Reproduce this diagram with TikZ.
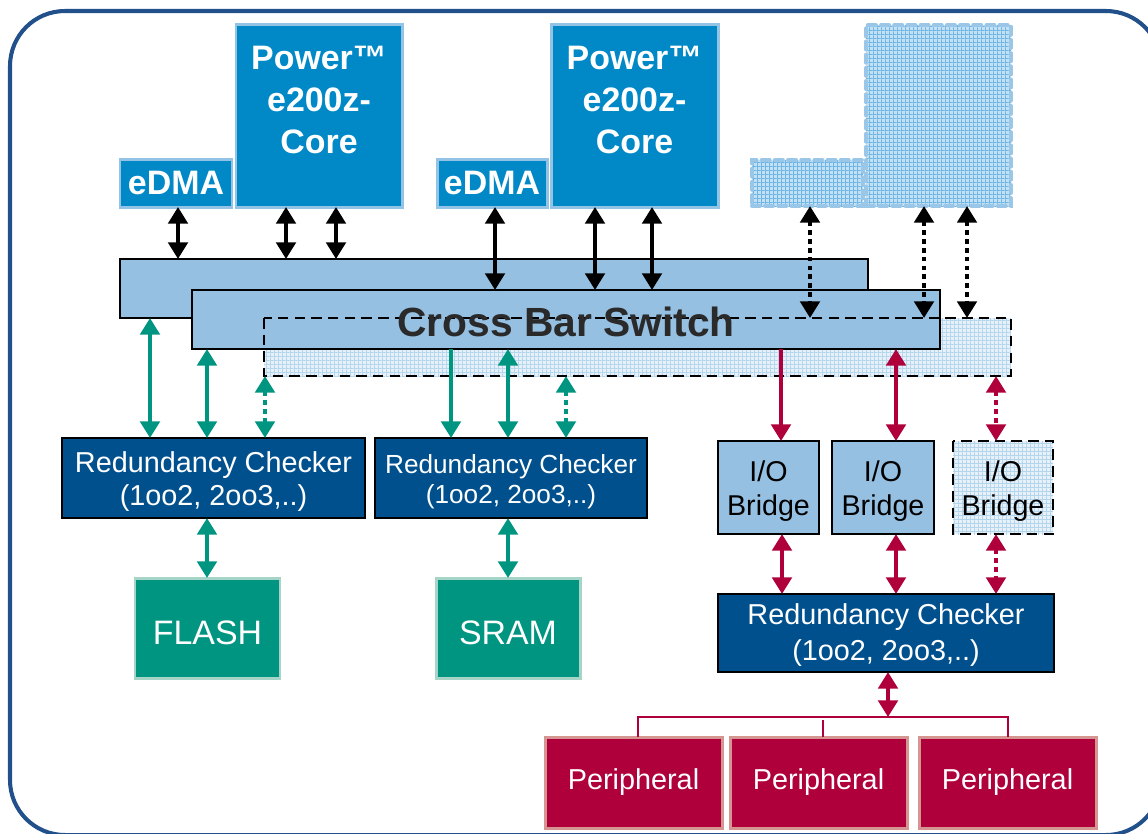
\documentclass[tikz,border=0pt]{standalone}
\usepackage{fontspec}
\setmainfont{Liberation Sans}
\usetikzlibrary{arrows.meta,patterns}
\pgfdeclarepatternformonly{finegrid}{\pgfpointorigin}{\pgfqpoint{2.2pt}{2.2pt}}{\pgfqpoint{2.2pt}{2.2pt}}{%
  \pgfpathrectangle{\pgfpointorigin}{\pgfqpoint{2.2pt}{0.5pt}}%
  \pgfpathrectangle{\pgfpointorigin}{\pgfqpoint{0.5pt}{2.2pt}}%
  \pgfusepath{fill}}
\definecolor{framec}{HTML}{21508A}
\definecolor{corefill}{HTML}{0088C7}
\definecolor{coreborder}{HTML}{93C3E5}
\definecolor{barfill}{HTML}{95C0E2}
\definecolor{hatchbg}{HTML}{C4E1F4}
\definecolor{hatchfg}{HTML}{6DB5E4}
\definecolor{hatchline}{HTML}{9AC6E7}
\definecolor{lhatchbg}{HTML}{E6F1F9}
\definecolor{lhatchfg}{HTML}{B3D5EC}
\definecolor{rcfill}{HTML}{00508E}
\definecolor{grn}{HTML}{009581}
\definecolor{grnborder}{HTML}{A6D4C6}
\definecolor{rd}{HTML}{AF003B}
\definecolor{rdborder}{HTML}{D59590}
\definecolor{xbtext}{HTML}{2A2A2A}
\newcommand{\dn}[1]{\rule{0pt}{#1}}
\begin{document}
\begin{tikzpicture}[x=0.02cm,y=-0.02cm,
  wh/.style 2 args={minimum width=#1*0.02cm, minimum height=#2*0.02cm},
  base/.style={inner sep=0pt, outer sep=0pt, align=center},
  corebox/.style={base, fill=corefill, draw=coreborder, line width=1.7pt, text=white, font=\bfseries\fontsize{19.3}{23.8}\selectfont},
  hatchbox/.style={base, draw=hatchline, line width=2.3pt, dash pattern=on 4.5pt off 3pt, line cap=round, preaction={fill=hatchbg}, pattern=finegrid, pattern color=hatchfg},
  lhatch/.style={preaction={fill=lhatchbg}, pattern=finegrid, pattern color=lhatchfg},
  barbox/.style={base, fill=barfill, draw=black, line width=1.4pt},
  rcbox/.style={base, fill=rcfill, draw=black, line width=1.4pt, text=white, font=\fontsize{16.4}{18.7}\selectfont},
  iobox/.style={base, fill=barfill, draw=black, line width=1.4pt, text=black, font=\fontsize{16.3}{19.8}\selectfont},
  membox/.style={base, fill=grn, draw=grnborder, line width=1.7pt, text=white, font=\fontsize{19.3}{23}\selectfont},
  perbox/.style={base, fill=rd, draw=rdborder, line width=1.7pt, text=white, font=\fontsize{16.4}{19}\selectfont},
  barr/.style={line width=2.3pt, black, {Triangle[width=11pt,length=9.5pt]}-{Triangle[width=11pt,length=9.5pt]}},
  garr/.style={line width=2.8pt, grn, {Triangle[width=11pt,length=9.5pt]}-{Triangle[width=11pt,length=9.5pt]}},
  gsarr/.style={line width=2.8pt, grn, -{Triangle[width=11pt,length=9.5pt]}},
  rarr/.style={line width=2.8pt, rd, {Triangle[width=11pt,length=9.5pt]}-{Triangle[width=11pt,length=9.5pt]}},
  rsarr/.style={line width=2.8pt, rd, -{Triangle[width=11pt,length=9.5pt]}},
  dots/.style={dash pattern=on 2.6pt off 2.4pt},
  dbord/.style={black, line width=1.6pt, dash pattern=on 6pt off 3.5pt},
  rline/.style={line width=1.2pt, rd}
]
\useasboundingbox (0,0) rectangle (1148,833);
\clip (0,0) rectangle (1148,833);
% frame
\draw[framec, line width=2.3pt, rounded corners=1.1cm] (10,11) rectangle (1161,835);

% top blocks
\node[corebox, wh={112}{48}] (edma1) at (176,183) {eDMA};
\node[corebox, wh={166}{183}] (core1) at (319,115.5) {};
\node[corebox, draw=none, fill=none] (core1t) at (319,100) {Power™\\e200z-\\Core};
\node[corebox, wh={110}{48}] (edma2) at (492,183) {eDMA};
\node[corebox, wh={167}{183}] (core2) at (634.5,115.5) {};
\node[corebox, draw=none, fill=none] (core2t) at (634.5,100) {Power™\\e200z-\\Core};
\node[hatchbox, wh={111}{46}] (hs) at (807.5,183) {};
\node[hatchbox, wh={145}{181}] (hb) at (938.5,115.5) {};

% cross bar
\node[barbox, wh={748}{59}] (back) at (494,288.5) {};
\node[base, wh={747}{58}, lhatch] (xbd) at (637.5,347) {};
\node[barbox, wh={748}{59}] (front) at (566,319.5) {};
\draw[dbord] (xbd.north west) rectangle (xbd.south east);
\node[base, text=xbtext, font=\bfseries\fontsize{23.2}{28}\selectfont] (xbtext) at (566,322) {Cross Bar Switch};

% middle
\node[rcbox, wh={303}{80}] (rc1) at (213.5,478) {\dn{15.5pt}Redundancy Checker\\(1oo2, 2oo3,..)};
\node[rcbox, wh={272}{80}, font=\fontsize{14.9}{17}\selectfont] (rc2) at (511,478) {\dn{15pt}Redundancy Checker\\(1oo2, 2oo3,..)};
\node[membox, wh={145}{100}] (flash) at (207.5,628) {\dn{18.5pt}FLASH};
\node[membox, wh={144}{100}] (sram) at (508,628) {\dn{18.5pt}SRAM};
\node[iobox, wh={101}{93}] (iob1) at (768.5,487.5) {\dn{16pt}I/O\\Bridge};
\node[iobox, wh={102}{93}] (iob2) at (883,487.5) {\dn{16pt}I/O\\Bridge};
\node[iobox, wh={100}{93}, fill=none, draw=none, lhatch] (iob3) at (1003,487.5) {\dn{16pt}I/O\\Bridge};
\draw[dbord] (iob3.north west) rectangle (iob3.south east);
\node[rcbox, wh={336}{78}, font=\fontsize{16.4}{20.4}\selectfont] (rc3) at (886,633) {\dn{14pt}Redundancy Checker\\(1oo2, 2oo3,..)};

% peripherals
\node[perbox, wh={177}{91}] (p1) at (633.5,782.5) {Peripheral};
\node[perbox, wh={177}{91}] (p2) at (818.5,782.5) {Peripheral};
\node[perbox, wh={177}{91}] (p3) at (1007.5,782.5) {Peripheral};
\coordinate (brk) at (888,717);

% black arrows
\draw[barr] (178,0 |- edma1.south) -- (178,0 |- back.north);
\draw[barr] (286,0 |- core1.south) -- (286,0 |- back.north);
\draw[barr] (336,0 |- core1.south) -- (336,0 |- back.north);
\draw[barr] (495,0 |- edma2.south) -- (495,0 |- front.north);
\draw[barr] (595,0 |- core2.south) -- (595,0 |- front.north);
\draw[barr] (652,0 |- core2.south) -- (652,0 |- front.north);
\draw[barr, dots] (810,0 |- hs.south) -- (810,0 |- xbd.north);
\draw[barr, dots] (924,0 |- hb.south) -- (924,0 |- xbd.north);
\draw[barr, dots] (967,0 |- hb.south) -- (967,0 |- xbd.north);

% green arrows
\draw[garr] (150,0 |- back.south) -- (150,0 |- rc1.north);
\draw[garr] (207,0 |- front.south) -- (207,0 |- rc1.north);
\draw[garr, dots] (265,0 |- xbd.south) -- (265,0 |- rc1.north);
\draw[gsarr] (451,0 |- front.south) -- (451,0 |- rc2.north);
\draw[garr] (508,0 |- front.south) -- (508,0 |- rc2.north);
\draw[garr, dots] (566,0 |- xbd.south) -- (566,0 |- rc2.north);
\draw[garr] (207,0 |- rc1.south) -- (207,0 |- flash.north);
\draw[garr] (508,0 |- rc2.south) -- (508,0 |- sram.north);

% red arrows
\draw[rsarr] (781,0 |- front.south) -- (781,0 |- iob1.north);
\draw[rarr] (896,0 |- front.south) -- (896,0 |- iob2.north);
\draw[rarr, dots] (996,0 |- xbd.south) -- (996,0 |- iob3.north);
\draw[rarr] (782,0 |- iob1.south) -- (782,0 |- rc3.north);
\draw[rarr] (896,0 |- iob2.south) -- (896,0 |- rc3.north);
\draw[rarr, dots] (996,0 |- iob3.south) -- (996,0 |- rc3.north);
\draw[rarr] (888,0 |- rc3.south) -- (brk);

% bracket
\draw[rline] (638,0 |- p1.north) |- (brk) -| (1008,0 |- p3.north);
\draw[rline] (823,0 |- p2.north) -- (823,720);
\end{tikzpicture}
\end{document}
